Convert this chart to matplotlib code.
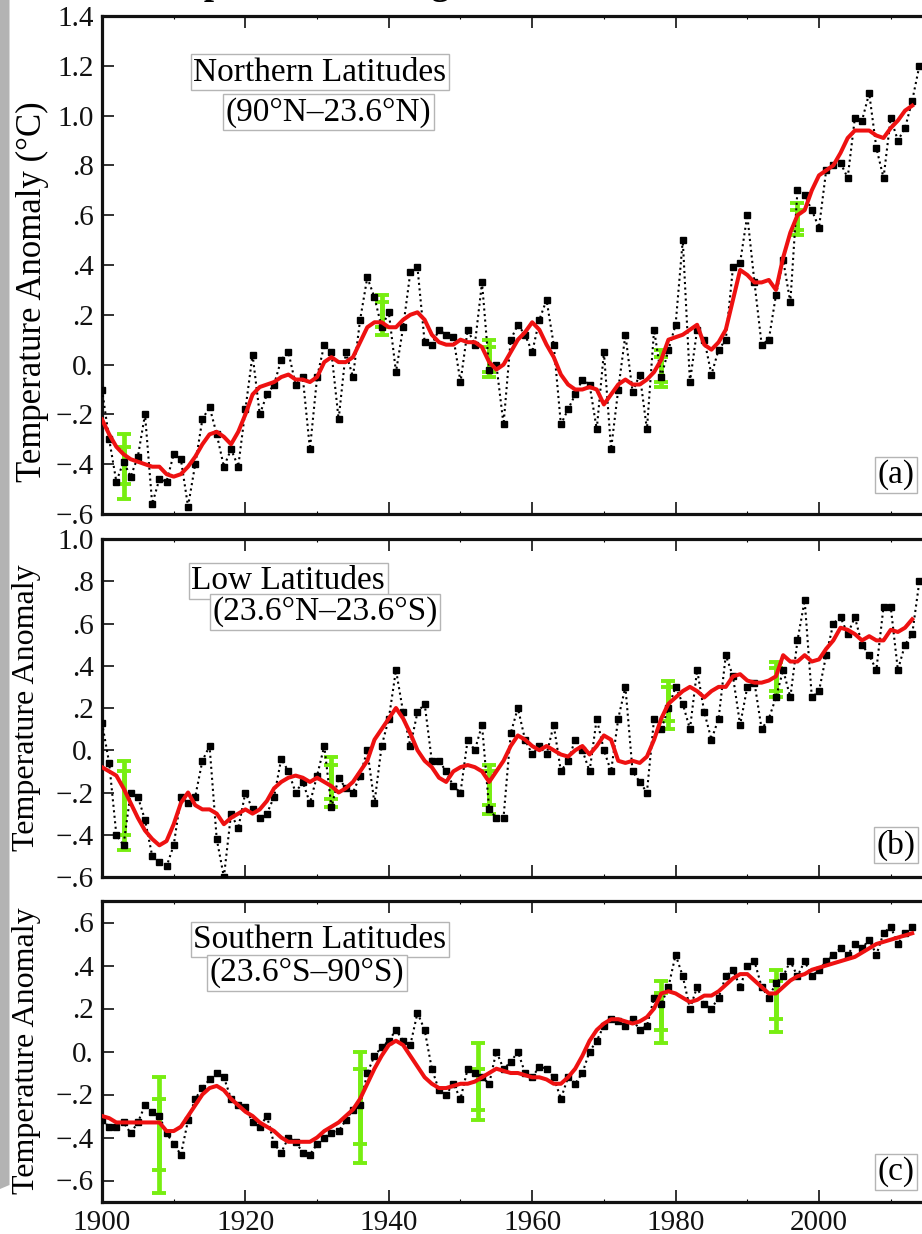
import numpy as np
import matplotlib
matplotlib.use("Agg")
import matplotlib.pyplot as plt
from matplotlib.patches import Polygon

plt.rcParams['font.family'] = ['Liberation Serif', 'DejaVu Serif']

years = np.arange(1900, 2015)
years_c = np.arange(1900, 2014)
red_years = np.arange(1900, 2014)

north_annual = [-0.10, -0.30, -0.47, -0.39, -0.45, -0.37, -0.20, -0.56, -0.46, -0.47,
                -0.36, -0.38, -0.57, -0.40, -0.22, -0.17, -0.28, -0.41, -0.34, -0.41,
                -0.18, 0.04, -0.20, -0.12, -0.08, 0.02, 0.05, -0.08, -0.05, -0.34,
                -0.05, 0.08, 0.05, -0.22, 0.05, -0.05, 0.18, 0.35, 0.27, 0.15,
                0.21, -0.03, 0.15, 0.37, 0.39, 0.09, 0.08, 0.14, 0.12, 0.11,
                -0.07, 0.14, 0.08, 0.33, -0.02, 0.00, -0.24, 0.10, 0.16, 0.12,
                0.05, 0.18, 0.26, 0.08, -0.24, -0.18, -0.12, -0.06, -0.08, -0.26,
                0.05, -0.34, -0.10, 0.12, -0.11, -0.04, -0.26, 0.14, -0.05, 0.06,
                0.16, 0.50, -0.07, 0.14, 0.10, -0.04, 0.06, 0.10, 0.39, 0.41,
                0.60, 0.33, 0.08, 0.10, 0.28, 0.42, 0.25, 0.70, 0.68, 0.62,
                0.55, 0.78, 0.80, 0.81, 0.75, 0.99, 0.98, 1.09, 0.87, 0.75,
                0.99, 0.90, 0.95, 1.06, 1.20]
north_smooth = [-0.22, -0.28, -0.33, -0.36, -0.38, -0.39, -0.40, -0.41, -0.41, -0.44,
                -0.45, -0.44, -0.41, -0.37, -0.32, -0.28, -0.27, -0.29, -0.32, -0.27,
                -0.20, -0.12, -0.09, -0.08, -0.07, -0.05, -0.04, -0.06, -0.06, -0.07,
                -0.05, 0.01, 0.03, 0.01, 0.01, 0.03, 0.09, 0.15, 0.17, 0.17,
                0.15, 0.15, 0.18, 0.20, 0.21, 0.18, 0.12, 0.09, 0.08, 0.08,
                0.10, 0.09, 0.09, 0.07, 0.01, -0.02, 0.00, 0.05, 0.10, 0.13,
                0.17, 0.14, 0.08, 0.03, -0.04, -0.08, -0.10, -0.10, -0.09, -0.10,
                -0.16, -0.12, -0.08, -0.06, -0.08, -0.08, -0.06, -0.03, 0.02, 0.10,
                0.11, 0.12, 0.14, 0.16, 0.08, 0.06, 0.09, 0.14, 0.26, 0.38,
                0.36, 0.33, 0.33, 0.34, 0.30, 0.43, 0.53, 0.60, 0.62, 0.70,
                0.76, 0.78, 0.80, 0.85, 0.91, 0.94, 0.94, 0.94, 0.92, 0.91,
                0.95, 0.98, 1.02, 1.04]

low_annual = [0.13, -0.06, -0.40, -0.45, -0.20, -0.22, -0.33, -0.50, -0.53, -0.55,
              -0.45, -0.22, -0.25, -0.22, -0.05, 0.02, -0.42, -0.60, -0.30, -0.37,
              -0.20, -0.28, -0.32, -0.30, -0.22, -0.04, -0.10, -0.20, -0.15, -0.25,
              -0.12, 0.02, -0.27, -0.13, -0.18, -0.20, -0.12, 0.00, -0.25, 0.02,
              0.15, 0.38, 0.18, 0.02, 0.18, 0.22, -0.05, -0.05, -0.10, -0.17,
              -0.20, 0.05, 0.00, 0.12, -0.28, -0.32, -0.32, 0.08, 0.20, 0.05,
              -0.02, 0.02, -0.02, 0.12, -0.10, -0.05, 0.05, 0.00, -0.10, 0.15,
              0.00, -0.10, 0.15, 0.30, -0.10, -0.15, -0.20, 0.15, 0.10, 0.20,
              0.30, 0.22, 0.10, 0.38, 0.18, 0.05, 0.15, 0.45, 0.35, 0.12,
              0.30, 0.32, 0.10, 0.15, 0.25, 0.38, 0.25, 0.52, 0.71, 0.25,
              0.28, 0.45, 0.60, 0.63, 0.55, 0.63, 0.50, 0.45, 0.38, 0.68,
              0.68, 0.38, 0.50, 0.55, 0.80]
low_smooth = [-0.08, -0.10, -0.12, -0.18, -0.25, -0.32, -0.38, -0.42, -0.45, -0.43,
              -0.35, -0.25, -0.20, -0.26, -0.28, -0.28, -0.30, -0.35, -0.32, -0.30,
              -0.28, -0.30, -0.28, -0.24, -0.18, -0.15, -0.13, -0.12, -0.13, -0.15,
              -0.13, -0.15, -0.17, -0.20, -0.18, -0.15, -0.10, -0.05, 0.05, 0.10,
              0.15, 0.20, 0.15, 0.08, 0.00, -0.05, -0.08, -0.13, -0.15, -0.10,
              -0.08, -0.07, -0.08, -0.10, -0.15, -0.10, -0.05, 0.02, 0.07, 0.05,
              0.02, 0.00, 0.02, 0.00, -0.02, -0.03, 0.00, 0.02, -0.02, 0.02,
              0.07, 0.05, -0.05, -0.06, -0.05, -0.06, -0.03, 0.05, 0.15, 0.22,
              0.25, 0.28, 0.30, 0.28, 0.25, 0.28, 0.30, 0.30, 0.35, 0.36,
              0.33, 0.32, 0.32, 0.33, 0.35, 0.45, 0.42, 0.42, 0.45, 0.42,
              0.43, 0.48, 0.52, 0.58, 0.57, 0.55, 0.52, 0.54, 0.52, 0.52,
              0.57, 0.56, 0.58, 0.62]

south_annual = [-0.32, -0.35, -0.35, -0.33, -0.38, -0.33, -0.25, -0.28, -0.30, -0.38,
                -0.43, -0.48, -0.32, -0.22, -0.17, -0.13, -0.10, -0.12, -0.22, -0.25,
                -0.26, -0.33, -0.35, -0.30, -0.43, -0.47, -0.40, -0.42, -0.47, -0.48,
                -0.43, -0.40, -0.38, -0.37, -0.32, -0.27, -0.25, -0.10, -0.02, 0.02,
                0.05, 0.10, 0.05, 0.03, 0.18, 0.10, -0.08, -0.18, -0.20, -0.15,
                -0.22, -0.08, -0.10, -0.12, -0.15, 0.00, -0.08, -0.05, 0.00, -0.10,
                -0.12, -0.07, -0.08, -0.12, -0.22, -0.12, -0.15, -0.10, 0.00, 0.05,
                0.12, 0.15, 0.14, 0.12, 0.15, 0.10, 0.12, 0.25, 0.22, 0.30,
                0.45, 0.35, 0.20, 0.30, 0.22, 0.20, 0.25, 0.35, 0.38, 0.30,
                0.40, 0.42, 0.30, 0.25, 0.32, 0.35, 0.42, 0.35, 0.42, 0.35,
                0.38, 0.42, 0.45, 0.48, 0.45, 0.50, 0.48, 0.52, 0.45, 0.55,
                0.58, 0.50, 0.55, 0.58]
south_smooth = [-0.30, -0.31, -0.33, -0.33, -0.33, -0.33, -0.33, -0.33, -0.33, -0.37,
                -0.37, -0.35, -0.30, -0.25, -0.20, -0.17, -0.16, -0.18, -0.22, -0.25,
                -0.28, -0.30, -0.33, -0.35, -0.37, -0.40, -0.42, -0.42, -0.42, -0.42,
                -0.40, -0.37, -0.35, -0.33, -0.30, -0.27, -0.22, -0.15, -0.08, -0.02,
                0.03, 0.05, 0.03, -0.02, -0.07, -0.12, -0.15, -0.17, -0.17, -0.16,
                -0.15, -0.15, -0.14, -0.12, -0.10, -0.08, -0.09, -0.10, -0.10, -0.11,
                -0.12, -0.12, -0.13, -0.15, -0.15, -0.12, -0.08, -0.02, 0.05, 0.10,
                0.13, 0.15, 0.15, 0.14, 0.13, 0.14, 0.16, 0.20, 0.27, 0.28,
                0.27, 0.25, 0.23, 0.24, 0.26, 0.26, 0.28, 0.31, 0.34, 0.36,
                0.36, 0.33, 0.30, 0.27, 0.27, 0.30, 0.33, 0.35, 0.36, 0.38,
                0.39, 0.40, 0.41, 0.42, 0.43, 0.44, 0.46, 0.48, 0.50, 0.51,
                0.52, 0.53, 0.54, 0.55]

# green uncertainty bars: year, outer (low, high), inner (low, high)
north_err_years = [1903, 1939, 1954, 1978, 1997]
north_err_outer = [(-0.54, -0.28), (0.12, 0.28), (-0.05, 0.10), (-0.09, 0.06), (0.52, 0.65)]
north_err_inner = [(-0.48, -0.33), (0.15, 0.25), (-0.03, 0.07), (-0.07, 0.03), (0.54, 0.62)]
low_err_years = [1903, 1932, 1954, 1979, 1994]
low_err_outer = [(-0.47, -0.05), (-0.27, -0.03), (-0.30, -0.07), (0.10, 0.33), (0.25, 0.42)]
low_err_inner = [(-0.40, -0.10), (-0.23, -0.07), (-0.26, -0.10), (0.14, 0.30), (0.28, 0.39)]
south_err_years = [1908, 1936, 1952.5, 1978, 1994]
south_err_outer = [(-0.66, -0.12), (-0.52, 0.00), (-0.32, 0.04), (0.04, 0.33), (0.09, 0.38)]
south_err_inner = [(-0.55, -0.22), (-0.43, -0.08), (-0.27, -0.08), (0.10, 0.27), (0.15, 0.33)]

x_ticks = [1900, 1920, 1940, 1960, 1980, 2000]
x_tick_labels = ['1900', '1920', '1940', '1960', '1980', '2000']
a_yticks = [-0.6, -0.4, -0.2, 0.0, 0.2, 0.4, 0.6, 0.8, 1.0, 1.2, 1.4]
a_ylabels = ['\u2212.6', '\u2212.4', '\u2212.2', '0.', '.2', '.4', '.6', '.8', '1.0', '1.2', '1.4']
b_yticks = [-0.6, -0.4, -0.2, 0.0, 0.2, 0.4, 0.6, 0.8, 1.0]
b_ylabels = ['\u2212.6', '\u2212.4', '\u2212.2', '0.', '.2', '.4', '.6', '.8', '1.0']
c_yticks = [-0.6, -0.4, -0.2, 0.0, 0.2, 0.4, 0.6]
c_ylabels = ['\u2212.6', '\u2212.4', '\u2212.2', '0.', '.2', '.4', '.6']

W, H = 922, 1234
fig = plt.figure(figsize=(W / 100, H / 100), dpi=100)

# gray strip on the left
strip = Polygon([(0, 1), (9.5 / W, 1), (9.5 / W, 1 - 1185 / H), (0, 1 - 1189 / H)],
                closed=True, transform=fig.transFigure, facecolor='#b3b3b3',
                edgecolor='none', zorder=0)
fig.patches.append(strip)

# title, mostly above the top edge as in the reference
fig.text(137 / W, 1 + 6 / H, 'Temperature Change', fontsize=26, fontweight='bold',
         ha='left', va='baseline')

left = 102 / W
xmin, xmax = 1900, 2016
px_per_year = 7.17
width = (xmax - xmin) * px_per_year / W

panels = [
    dict(top=16, bot=514, ylim=(-0.6, 1.4), yt=a_yticks, yl=a_ylabels,
         ann=north_annual, yrs=years, sm=north_smooth,
         ey=north_err_years, eo=north_err_outer, ei=north_err_inner,
         ylabel='Temperature Anomaly (\u00b0C)', lx=32, ly=292, lfs=25,
         t1='Northern Latitudes', t1pos=(0.262, 0.887),
         t2='(90\u00b0N\u201323.6\u00b0N)', t2pos=(0.272, 0.807),
         tag='(a)', tagpos=(0.9547, 0.079)),
    dict(top=539, bot=877, ylim=(-0.6, 1.0), yt=b_yticks, yl=b_ylabels,
         ann=low_annual, yrs=years, sm=low_smooth,
         ey=low_err_years, eo=low_err_outer, ei=low_err_inner,
         ylabel='Temperature Anomaly', lx=27, ly=708, lfs=23,
         t1='Low Latitudes', t1pos=(0.224, 0.876),
         t2='(23.6\u00b0N\u201323.6\u00b0S)', t2pos=(0.268, 0.784),
         tag='(b)', tagpos=(0.9547, 0.095)),
    dict(top=901, bot=1202, ylim=(-0.7, 0.7), yt=c_yticks, yl=c_ylabels,
         ann=south_annual, yrs=years_c, sm=south_smooth,
         ey=south_err_years, eo=south_err_outer, ei=south_err_inner,
         ylabel='Temperature Anomaly', lx=27, ly=1051, lfs=23,
         t1='Southern Latitudes', t1pos=(0.262, 0.872),
         t2='(23.6\u00b0S\u201390\u00b0S)', t2pos=(0.246, 0.761),
         tag='(c)', tagpos=(0.9547, 0.100)),
]

green = '#77ee11'
for i, p in enumerate(panels):
    ax = fig.add_axes([left, 1 - p['bot'] / H, width, (p['bot'] - p['top']) / H])
    ax.set_xlim(xmin, xmax)
    ax.set_ylim(*p['ylim'])

    for yr, (lo, hi) in zip(p['ey'], p['eo']):
        ax.errorbar([yr], [(lo + hi) / 2], yerr=[[(hi - lo) / 2], [(hi - lo) / 2]],
                    fmt='none', ecolor=green, elinewidth=3.4, capsize=5, capthick=2.8,
                    zorder=2)
    for yr, (lo, hi) in zip(p['ey'], p['ei']):
        ax.errorbar([yr], [(lo + hi) / 2], yerr=[[(hi - lo) / 2], [(hi - lo) / 2]],
                    fmt='none', ecolor=green, elinewidth=3.4, capsize=5, capthick=2.8,
                    zorder=2)

    ax.plot(p['yrs'], p['ann'], linestyle=':', color='black', lw=1.5,
            marker='s', markersize=5, markerfacecolor='black',
            markeredgecolor='black', zorder=3)
    ax.plot(red_years, p['sm'], color='#ee1111', lw=2.9, zorder=4,
            solid_joinstyle='round')

    ax.set_xticks(x_ticks)
    ax.set_xticks(np.arange(1910, 2016, 20), minor=True)
    if i == 2:
        ax.set_xticklabels(x_tick_labels, fontsize=21)
    else:
        ax.set_xticklabels([])
    ax.set_yticks(p['yt'])
    ax.set_yticklabels(p['yl'], fontsize=21)
    ax.tick_params(axis='both', which='major', direction='in', length=8.5, width=1.2,
                   top=True, right=True, pad=6, colors='#111111')
    ax.tick_params(axis='both', which='minor', direction='in', length=2, width=0.8,
                   top=True, right=True)
    ax.tick_params(axis='y', which='minor', left=False, right=False)
    for s in ax.spines.values():
        s.set_linewidth(2.3)
        s.set_color('#111111')

    fig.text(p['lx'] / W, 1 - p['ly'] / H, p['ylabel'],
             rotation=90, fontsize=p['lfs'], ha='center', va='center')

    box = dict(boxstyle='square,pad=0.08', facecolor='white', edgecolor='#b5b5b5', lw=1)
    ax.text(*p['t1pos'], p['t1'], transform=ax.transAxes, fontsize=24,
            ha='center', va='center', bbox=box, zorder=6)
    ax.text(*p['t2pos'], p['t2'], transform=ax.transAxes, fontsize=24,
            ha='center', va='center', bbox=box, zorder=6)
    ax.text(*p['tagpos'], p['tag'], transform=ax.transAxes, fontsize=24,
            ha='center', va='center', bbox=box, zorder=6)

fig.savefig('out.png', dpi=100)
